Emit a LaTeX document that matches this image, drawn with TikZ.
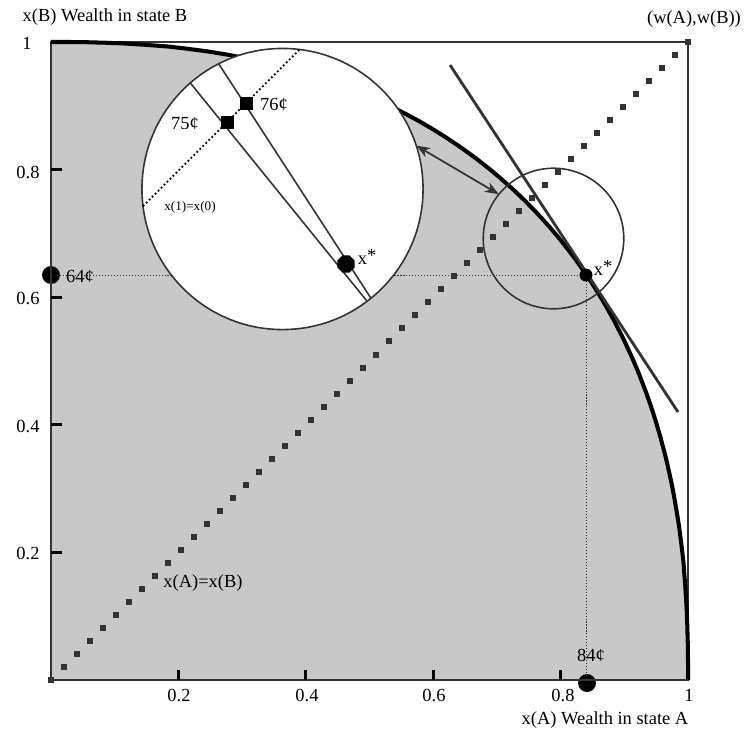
\documentclass[tikz,border=0pt]{standalone}
\usepackage{fontspec}
\setmainfont{Liberation Serif}
\usetikzlibrary{arrows.meta,shapes.geometric}
\definecolor{fillgray}{HTML}{C8C8C8}
\definecolor{dk}{HTML}{333333}
\newcommand{\xstarlbl}{x\raisebox{0.3ex}{*}}
\begin{document}
\begin{tikzpicture}[x=0.02cm,y=-0.02cm,
  lbl/.style={font=\fontsize{10.5}{12}\selectfont, inner sep=0pt},
  small/.style={font=\fontsize{7.5}{9}\selectfont, inner sep=0pt},
  bigdot/.style={circle, fill=black, inner sep=0pt, minimum size=10.2pt},
  smalldot/.style={circle, fill=black, inner sep=0pt, minimum size=7.4pt},
  octo/.style={regular polygon, regular polygon sides=8, fill=black, inner sep=0pt, minimum size=10.5pt},
  sq/.style={rectangle, fill=black, inner sep=0pt, minimum size=7.4pt},
  guide/.style={dk, line width=0.5pt, dash pattern=on 0.6pt off 1.1pt},
  tickmark/.style={black, line width=1.7pt},
  magline/.style={dk, line width=0.9pt}]
\useasboundingbox (0,0) rectangle (749,735);

% shaded feasible set
\fill[fillgray] (51,680) -- (51,42) -- plot[domain=89.8:0.2, samples=160, smooth]
  ({51+637*cos(\x)^0.84},{680-638*sin(\x)^0.84}) -- (688,680) -- cycle;

% named points
\node[bigdot] (d64) at (51,275) {};
\node[bigdot] (d84) at (587,683) {};
\coordinate (xstar) at (586,275);
\coordinate (xfoot) at (586,680);

% dotted guides
\draw[guide] (d64.center) -- (xstar);
\draw[guide] (xstar) -- (xfoot);

% 45-degree line of squares
\foreach \i in {0,...,49}
  \fill[dk] ({48+13*\i},{677-13.02*\i}) rectangle ++(6,6);

% frame and axes
\draw[dk, line width=1.1pt] (51,42) rectangle (688,680);
\foreach \t in {0.2,0.4,0.6,0.8} {
  \draw[tickmark] ({51+637*\t},680) -- ++(0,-10);
  \draw[tickmark] (51,{680-638*\t}) -- ++(11,0);
}

% frontier
\draw[black, line width=2.3pt] (51,42) -- plot[domain=89.8:0.2, samples=160, smooth]
  ({51+637*cos(\x)^0.84},{680-638*sin(\x)^0.84}) -- (688,680);

% tangent line
\coordinate (tanA) at (450,65);
\coordinate (tanB) at (678,412);
\draw[dk, line width=1.6pt] (tanA) -- (tanB);

% small circle around x*
\node[circle, draw=dk, line width=0.9pt, inner sep=0pt, outer sep=0pt, minimum size=80pt] (smallc) at (553.5,238.5) {};
\node[smalldot] (xs) at (xstar) {};
\node[lbl, anchor=center] (xslbl) at (603,268) {\xstarlbl};

% magnified circle
\node[circle, draw=dk, fill=white, line width=0.9pt, inner sep=0pt, outer sep=0pt, minimum size=160pt] (bigc) at (282.5,189) {};
\draw[black, line width=1pt, dash pattern=on 1pt off 1.4pt] (bigc.187.8) -- (bigc.83.9);
\draw[magline] (bigc.131.1) -- (bigc.-53.05);
\draw[magline] (bigc.117.1) -- (bigc.-51.2);
\node[sq] (s75) at (227,122) {};
\node[sq] (s76) at (246,103) {};
\node[octo] (xm) at (346,264) {};
\node[lbl] (l75) at (185,124) {75¢};
\node[lbl] (l76) at (274,104) {76¢};
\node[lbl] (xmlbl) at (367,257) {\xstarlbl};
\node[small] (l10) at (190,207) {x(1)=x(0)};

% double arrow between the circles
\draw[dk, line width=1pt, {Stealth[length=8pt,width=6pt]}-{Stealth[length=8pt,width=6pt]}] (bigc.18.8) -- (smallc.141.9);

% labels
\node[lbl] (l64) at (80,276) {64¢};
\node[lbl] (l84) at (591,655) {84¢};
\node[lbl] (ldiag) at (203,583) {x(A)=x(B)};
\node[lbl] (ytitle) at (105,17) {x(B) Wealth in state B};
\node[lbl] (wlbl) at (694,19) {(w(A),w(B))};
\node[lbl] (xtitle) at (605,720) {x(A) Wealth in state A};

\node[lbl] (y1) at (27,43) {1};
\node[lbl] (y08) at (28,172) {0.8};
\node[lbl] (y06) at (28,298) {0.6};
\node[lbl] (y04) at (28,426) {0.4};
\node[lbl] (y02) at (28,553) {0.2};
\node[lbl] (x02) at (179,695) {0.2};
\node[lbl] (x04) at (307,695) {0.4};
\node[lbl] (x06) at (434,695) {0.6};
\node[lbl] (x08) at (563,695) {0.8};
\node[lbl] (x1) at (689,695) {1};
\end{tikzpicture}
\end{document}
